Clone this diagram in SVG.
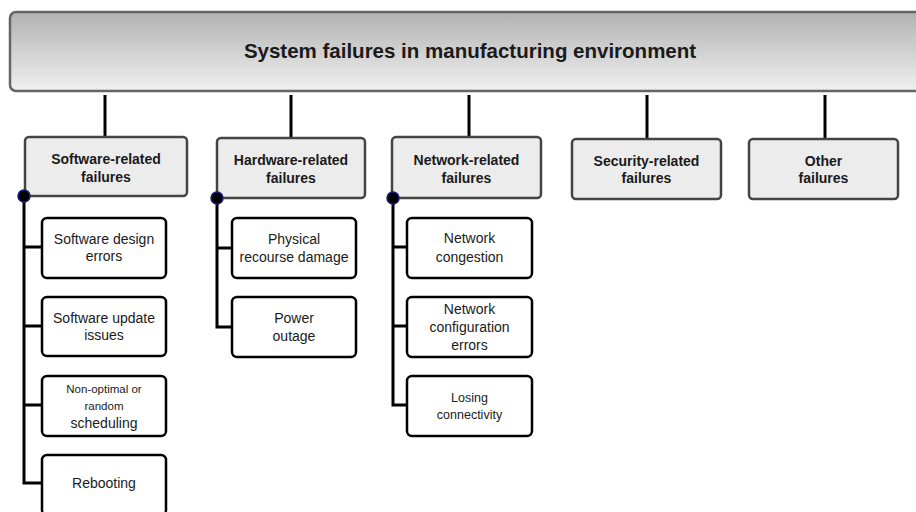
<svg xmlns="http://www.w3.org/2000/svg" width="916" height="512" viewBox="0 0 916 512">
<defs>
<linearGradient id="g" x1="0" y1="0" x2="0" y2="1">
<stop offset="0" stop-color="#b2b2b2"/>
<stop offset="1" stop-color="#f0f0f0"/>
</linearGradient>
</defs>
<style>
.top{fill:url(#g);stroke:#666;stroke-width:2.5}
.cat{fill:#ececec;stroke:#444;stroke-width:2.5}
.leaf{fill:#fff;stroke:#000;stroke-width:2.5}
.conn{stroke:#000;stroke-width:3;fill:none}
.dot{fill:#000;stroke:#1a1a7a;stroke-width:1.5}
text{font-family:"Liberation Sans",Arial,sans-serif;text-anchor:middle;fill:#1a1a1a}
.t{font-size:20.5px;font-weight:bold}
.c{font-size:14px;font-weight:bold}
.l{font-size:14px}
.s{font-size:11.5px}
.m{font-size:12.5px}
</style>
<g id="root">
<rect class="top" x="10" y="12" width="920" height="79" rx="6"/>
<text class="t" x="470" y="58">System failures in manufacturing environment</text>
</g>
<g id="connectors">
<line class="conn" x1="105" y1="95" x2="105" y2="137"/>
<line class="conn" x1="291" y1="95" x2="291" y2="138"/>
<line class="conn" x1="469" y1="95" x2="469" y2="137"/>
<line class="conn" x1="647" y1="95" x2="647" y2="139"/>
<line class="conn" x1="825" y1="95" x2="825" y2="139"/>
<path class="conn" d="M24 196V483H42M24 247H42M24 326H42M24 405H42"/>
<path class="conn" d="M217 198V327H232M217 248H232"/>
<path class="conn" d="M393 198V405H407M393 247H407M393 326H407"/>
</g>
<g id="software">
<rect class="cat" x="25" y="137" width="162" height="59" rx="4"/>
<text class="c" x="106" y="164">Software-related</text>
<text class="c" x="106" y="182">failures</text>
</g>
<g id="hardware">
<rect class="cat" x="217" y="138" width="148" height="60" rx="4"/>
<text class="c" x="291" y="165">Hardware-related</text>
<text class="c" x="291" y="183">failures</text>
</g>
<g id="network">
<rect class="cat" x="392" y="137" width="149" height="61" rx="4"/>
<text class="c" x="466.5" y="165">Network-related</text>
<text class="c" x="466.5" y="183">failures</text>
</g>
<g id="security">
<rect class="cat" x="572" y="139" width="149" height="60" rx="4"/>
<text class="c" x="646.5" y="166">Security-related</text>
<text class="c" x="646.5" y="183">failures</text>
</g>
<g id="other">
<rect class="cat" x="749" y="139" width="149" height="60" rx="4"/>
<text class="c" x="823.5" y="166">Other</text>
<text class="c" x="823.5" y="183">failures</text>
</g>
<g id="dots">
<circle class="dot" cx="24" cy="196" r="6"/>
<circle class="dot" cx="217" cy="198" r="6"/>
<circle class="dot" cx="393" cy="198" r="6"/>
</g>
<g id="sw-design">
<rect class="leaf" x="42" y="218" width="124" height="60" rx="5"/>
<text class="l" x="104" y="244">Software design</text>
<text class="l" x="104" y="261">errors</text>
</g>
<g id="sw-update">
<rect class="leaf" x="42" y="297" width="124" height="59" rx="5"/>
<text class="l" x="104" y="323">Software update</text>
<text class="l" x="104" y="340">issues</text>
</g>
<g id="sw-sched">
<rect class="leaf" x="42" y="376" width="124" height="60" rx="5"/>
<text class="s" x="104" y="393">Non-optimal or</text>
<text class="s" x="104" y="410">random</text>
<text class="l" x="104" y="428">scheduling</text>
</g>
<g id="sw-reboot">
<rect class="leaf" x="42" y="455" width="124" height="60" rx="5"/>
<text class="l" x="104" y="488">Rebooting</text>
</g>
<g id="hw-damage">
<rect class="leaf" x="232" y="218" width="124" height="60" rx="5"/>
<text class="l" x="294" y="244">Physical</text>
<text class="l" x="294" y="262">recourse damage</text>
</g>
<g id="hw-power">
<rect class="leaf" x="232" y="297" width="124" height="60" rx="5"/>
<text class="l" x="294" y="323">Power</text>
<text class="l" x="294" y="341">outage</text>
</g>
<g id="nw-congestion">
<rect class="leaf" x="407" y="218" width="125" height="60" rx="5"/>
<text class="l" x="469.5" y="243">Network</text>
<text class="l" x="469.5" y="262">congestion</text>
</g>
<g id="nw-config">
<rect class="leaf" x="407" y="297" width="125" height="60" rx="5"/>
<text class="l" x="469.5" y="314">Network</text>
<text class="l" x="469.5" y="332">configuration</text>
<text class="l" x="469.5" y="350">errors</text>
</g>
<g id="nw-connectivity">
<rect class="leaf" x="407" y="376" width="125" height="60" rx="5"/>
<text class="m" x="469.5" y="402">Losing</text>
<text class="m" x="469.5" y="419">connectivity</text>
</g>
</svg>
